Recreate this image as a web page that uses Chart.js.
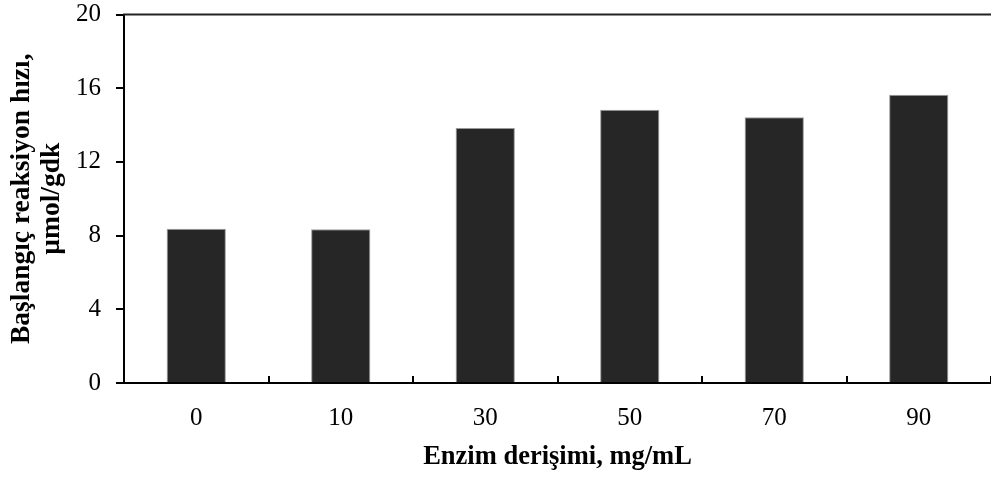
<!DOCTYPE html>
<html>
<head>
<meta charset="utf-8">
<script src="https://cdn.jsdelivr.net/npm/chart.js@4/dist/chart.umd.min.js"></script>
<style>
  html, body { margin: 0; padding: 0; background: #fff; }
  #wrap { width: 991px; height: 477px; position: relative; }
</style>
</head>
<body>
<div id="wrap"><canvas id="c"></canvas></div>
<script>
const categories = ['0', '10', '30', '50', '70', '90'];
const rates = [8.37, 8.34, 13.84, 14.83, 14.42, 15.65];
const yTicks = [0, 4, 8, 12, 16, 20];
const xTitle = 'Enzim derişimi, mg/mL';
const yTitle = ['Başlangıç reaksiyon hızı,', 'µmol/gdk'];

const FONT = "'Liberation Serif', 'Times New Roman', serif";

const topBorder = {
  id: 'topBorder',
  afterDraw(chart) {
    const { ctx, chartArea } = chart;
    ctx.save();
    ctx.strokeStyle = '#222';
    ctx.lineWidth = 2;
    ctx.beginPath();
    ctx.moveTo(chartArea.left - 1, chartArea.top);
    ctx.lineTo(chartArea.right + 1, chartArea.top);
    ctx.stroke();
    ctx.restore();
  }
};

new Chart(document.getElementById('c'), {
  type: 'bar',
  data: {
    labels: categories,
    datasets: [{
      data: rates,
      backgroundColor: '#262626',
      borderColor: '#9a9a9a',
      borderWidth: 1,
      categoryPercentage: 1,
      barPercentage: 0.41
    }]
  },
  options: {
    responsive: true,
    maintainAspectRatio: false,
    animation: false,
    devicePixelRatio: 1,
    layout: { padding: { top: 14.5, left: 0, right: 0, bottom: 0 } },
    plugins: { legend: { display: false }, tooltip: { enabled: false } },
    scales: {
      x: {
        grid: {
          offset: true,
          drawOnChartArea: false,
          drawTicks: true,
          tickLength: -7,
          color: '#000',
          lineWidth: 2
        },
        border: { display: true, color: '#000', width: 2 },
        ticks: {
          color: '#000',
          font: { family: FONT, size: 25 },
          padding: 27,
          maxRotation: 0
        },
        title: {
          display: true,
          text: xTitle,
          color: '#000',
          font: { family: FONT, size: 26.5, weight: 'bold', lineHeight: 1.15 },
          padding: { top: 0, bottom: 5 }
        },
        afterFit(scale) { scale.height = 94; scale.paddingLeft = 0; scale.paddingRight = 0; }
      },
      y: {
        min: 0,
        max: 20,
        afterBuildTicks(scale) { scale.ticks = yTicks.map(v => ({ value: v })); },
        grid: {
          drawOnChartArea: false,
          drawTicks: true,
          tickLength: 8,
          color: '#000',
          lineWidth: 2
        },
        border: { display: true, color: '#000', width: 2 },
        ticks: {
          color: '#000',
          font: { family: FONT, size: 25 },
          padding: 15
        },
        title: {
          display: true,
          text: yTitle,
          color: '#000',
          font: { family: FONT, size: 27.5, weight: 'bold', lineHeight: 1.1 },
          padding: { top: 7, bottom: 0 }
        },
        afterFit(scale) { scale.width = 124; scale.paddingTop = 0; scale.paddingBottom = 0; }
      }
    }
  },
  plugins: [topBorder]
});
</script>
</body>
</html>
